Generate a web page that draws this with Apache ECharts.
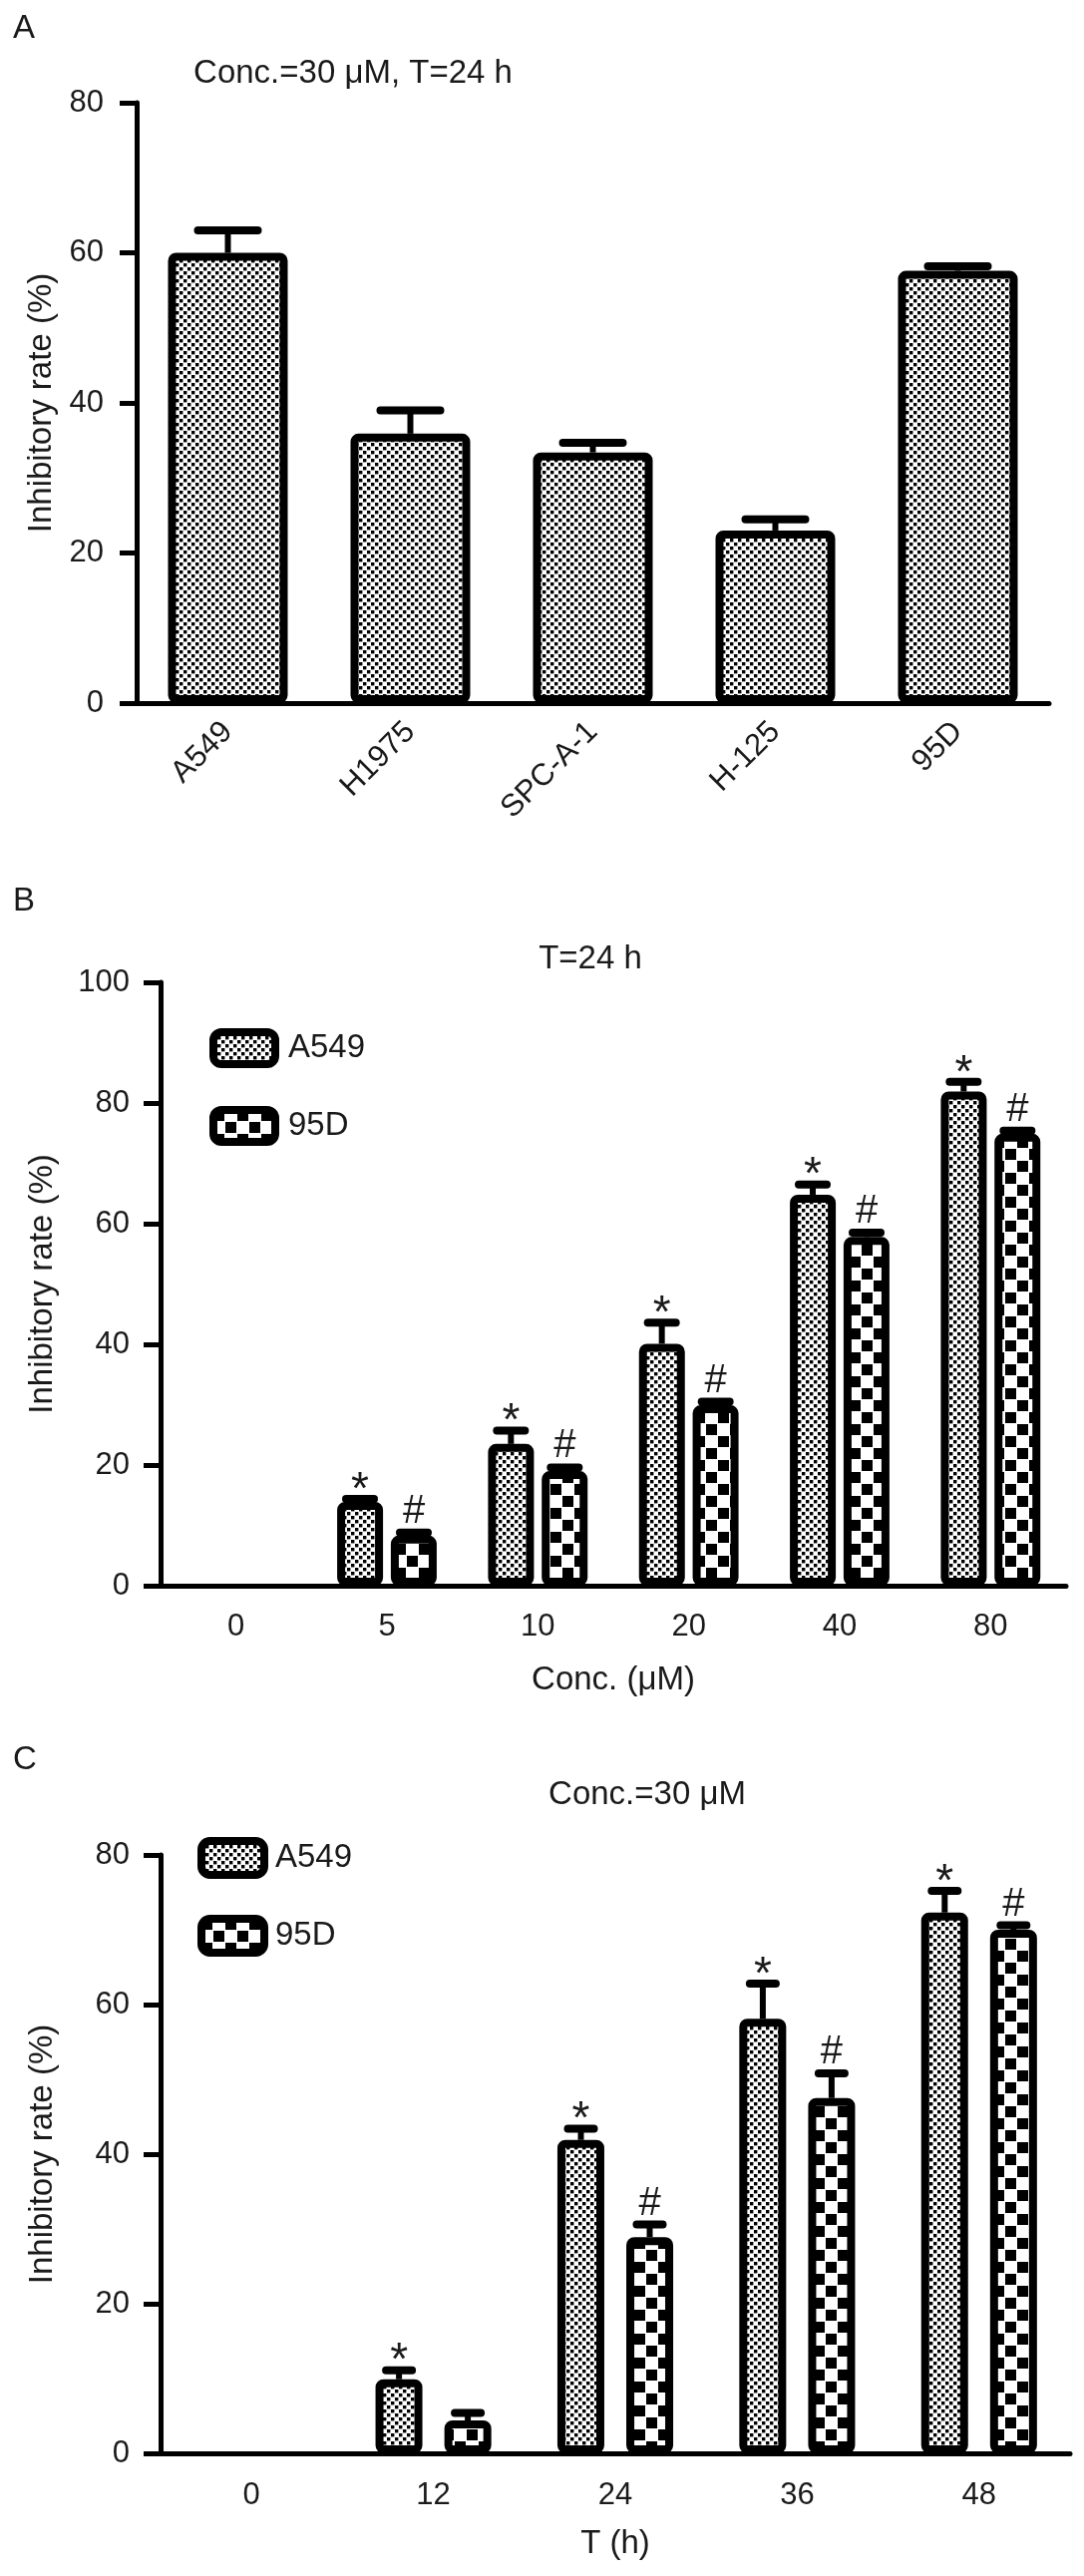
<!DOCTYPE html>
<html>
<head>
<meta charset="utf-8">
<script src="https://cdn.jsdelivr.net/npm/echarts@6/dist/echarts.min.js"></script>
<style>
html,body{margin:0;padding:0;background:#fff;}
#chart{width:1087px;height:2583px;}
</style>
</head>
<body>
<div id="chart"></div>
<script>
// ---- Panel A data ----
const catsA = ['A549', 'H1975', 'SPC-A-1', 'H-125', '95D'];
const valsA = [60.0, 35.9, 33.4, 23.0, 57.6];
const errA  = [3.0, 3.1, 1.3, 1.5, 0.6];
const marksA = ['', '', '', '', ''];

// ---- Panel B data ----
const catsB = ['0', '5', '10', '20', '40', '80'];
const b549 = [0, 13.9, 23.5, 40.1, 64.8, 81.9];
const b549Err = [0, 0.5, 2.2, 3.5, 1.7, 1.6];
const b95 = [0, 8.3, 19.0, 29.9, 57.8, 74.9];
const b95Err = [0, 0.5, 0.6, 0.6, 0.7, 0.5];
const b549Mark = ['', '*', '*', '*', '*', '*'];
const b95Mark = ['', '#', '#', '#', '#', '#'];

// ---- Panel C data ----
const catsC = ['0', '12', '24', '36', '48'];
const c549 = [0, 9.9, 41.9, 58.1, 72.3];
const c549Err = [0, 1.2, 1.5, 4.7, 2.9];
const c95 = [0, 4.4, 28.9, 47.5, 70.0];
const c95Err = [0, 1.0, 1.7, 3.3, 0.6];
const c549Mark = ['', '*', '*', '*', '*'];
const c95Mark = ['', '', '#', '#', '#'];

const FONT = "'Liberation Sans', Arial, sans-serif";
const TXT = '#1a1a1a';
const FS = 31;   // tick labels
const FN = 33;   // names, titles, legend

function makePattern(cell, dot) {
  const c = document.createElement('canvas');
  c.width = c.height = cell * 2;
  const ctx = c.getContext('2d');
  ctx.fillStyle = '#fff';
  ctx.fillRect(0, 0, c.width, c.height);
  ctx.fillStyle = '#000';
  ctx.fillRect(0, 0, dot, dot);
  ctx.fillRect(cell, cell, dot, dot);
  return c;
}
const fineFill = { image: makePattern(4, 3.4), repeat: 'repeat' };
const coarseFill = { image: makePattern(12, 11), repeat: 'repeat' };

function barStyle(fill) {
  return { color: fill, borderColor: '#000', borderWidth: 8, borderRadius: 4 };
}
// zero values are no bar at all
function barData(vals) { return vals.map(v => (v === 0 ? null : v)); }

function errSeries(name, gi, vals, errs, marks, offset, capLen) {
  return {
    type: 'custom', name: name, xAxisIndex: gi, yAxisIndex: gi,
    coordinateSystem: 'cartesian2d', z: 5, silent: true,
    encode: { x: 0, y: 1 },
    data: vals.map((v, i) => [i, v, errs[i]]),
    renderItem: function (params, api) {
      const i = api.value(0), v = api.value(1), e = api.value(2);
      if (!v) return null;
      const b = api.coord([i, v]);
      const t = api.coord([i, v + e]);
      const x = b[0] + offset;
      const children = [];
      if (e > 0) {
        children.push({ type: 'line', shape: { x1: x, y1: b[1], x2: x, y2: t[1] },
          style: { stroke: '#000', lineWidth: 6 } });
        children.push({ type: 'line', shape: { x1: x - capLen / 2, y1: t[1], x2: x + capLen / 2, y2: t[1] },
          style: { stroke: '#000', lineWidth: 8, lineCap: 'round' } });
      }
      const m = marks[params.dataIndex];
      if (m) {
        const capTop = t[1] - 4;
        children.push({ type: 'text', style: {
          text: m, x: x, y: m === '*' ? capTop + 19 : capTop + 3,
          align: 'center', verticalAlign: 'bottom',
          font: (m === '*' ? '46px ' : '40px ') + FONT, fill: TXT } });
      }
      return { type: 'group', children: children };
    }
  };
}

const axisLine = { lineStyle: { color: '#000', width: 5 } };
const axisTick = { length: 17, lineStyle: { color: '#000', width: 5 } };
const labelStyle = { color: TXT, fontSize: FS, fontFamily: FONT };
const nameStyle = { color: TXT, fontSize: FN, fontFamily: FONT };

const chart = echarts.init(document.getElementById('chart'));
chart.setOption({
  animation: false,
  backgroundColor: '#fff',
  textStyle: { fontFamily: FONT },
  grid: [
    { left: 137, top: 103, width: 915, height: 602 },
    { left: 161, top: 985, width: 908, height: 605 },
    { left: 161, top: 1860, width: 912, height: 600 }
  ],
  xAxis: [
    { type: 'category', gridIndex: 0, data: catsA, axisLine: axisLine,
      axisTick: Object.assign({ alignWithLabel: true }, axisTick),
      axisLabel: Object.assign({ rotate: 45, margin: 24, interval: 0 }, labelStyle) },
    { type: 'category', gridIndex: 1, data: catsB, axisLine: axisLine,
      axisTick: Object.assign({ alignWithLabel: true }, axisTick),
      axisLabel: Object.assign({ margin: 26, interval: 0 }, labelStyle),
      name: 'Conc. (μM)', nameLocation: 'middle', nameGap: 78, nameTextStyle: nameStyle },
    { type: 'category', gridIndex: 2, data: catsC, axisLine: axisLine,
      axisTick: Object.assign({ alignWithLabel: true }, axisTick),
      axisLabel: Object.assign({ margin: 27, interval: 0 }, labelStyle),
      name: 'T (h)', nameLocation: 'middle', nameGap: 74, nameTextStyle: nameStyle }
  ],
  yAxis: [
    { type: 'value', gridIndex: 0, min: 0, max: 80, interval: 20,
      axisLine: Object.assign({ show: true }, axisLine), axisTick: Object.assign({ show: true }, axisTick),
      splitLine: { show: false }, axisLabel: Object.assign({ margin: 33 }, labelStyle),
      name: 'Inhibitory rate (%)', nameLocation: 'middle', nameGap: 78, nameTextStyle: nameStyle },
    { type: 'value', gridIndex: 1, min: 0, max: 100, interval: 20,
      axisLine: Object.assign({ show: true }, axisLine), axisTick: Object.assign({ show: true }, axisTick),
      splitLine: { show: false }, axisLabel: Object.assign({ margin: 31 }, labelStyle),
      name: 'Inhibitory rate (%)', nameLocation: 'middle', nameGap: 102, nameTextStyle: nameStyle },
    { type: 'value', gridIndex: 2, min: 0, max: 80, interval: 20,
      axisLine: Object.assign({ show: true }, axisLine), axisTick: Object.assign({ show: true }, axisTick),
      splitLine: { show: false }, axisLabel: Object.assign({ margin: 31 }, labelStyle),
      name: 'Inhibitory rate (%)', nameLocation: 'middle', nameGap: 102, nameTextStyle: nameStyle }
  ],
  legend: [
    { data: ['A549', '95D'], orient: 'vertical', left: 205, top: 1026, itemWidth: 62, itemHeight: 32,
      itemGap: 38, selectedMode: false, icon: 'roundRect',
      itemStyle: { borderWidth: 8, borderColor: '#000' },
      textStyle: { color: TXT, fontSize: FN, fontFamily: FONT, padding: [0, 0, 0, 8] } },
    { data: ['A549', '95D'], orient: 'vertical', left: 193, top: 1837, itemWidth: 63, itemHeight: 34,
      itemGap: 36, selectedMode: false, icon: 'roundRect',
      itemStyle: { borderWidth: 8, borderColor: '#000' },
      textStyle: { color: TXT, fontSize: FN, fontFamily: FONT, padding: [0, 0, 0, 6] } }
  ],
  graphic: [
    { type: 'text', left: 13, top: 12, style: { text: 'A', font: FN + 'px ' + FONT, fill: TXT } },
    { type: 'text', left: 13, top: 887, style: { text: 'B', font: FN + 'px ' + FONT, fill: TXT } },
    { type: 'text', left: 13, top: 1748, style: { text: 'C', font: FN + 'px ' + FONT, fill: TXT } },
    { type: 'text', x: 354, y: 74, style: { text: 'Conc.=30 μM, T=24 h', font: FN + 'px ' + FONT, fill: TXT, align: 'center', verticalAlign: 'middle' } },
    { type: 'text', x: 592, y: 962, style: { text: 'T=24 h', font: FN + 'px ' + FONT, fill: TXT, align: 'center', verticalAlign: 'middle' } },
    { type: 'text', x: 649, y: 1800, style: { text: 'Conc.=30 μM', font: FN + 'px ' + FONT, fill: TXT, align: 'center', verticalAlign: 'middle' } }
  ],
  series: [
    { type: 'bar', name: 'Inhibitory rate', xAxisIndex: 0, yAxisIndex: 0, data: barData(valsA),
      barWidth: 120, itemStyle: barStyle(fineFill) },
    errSeries('errA', 0, valsA, errA, marksA, 0, 60),

    { type: 'bar', name: 'A549', xAxisIndex: 1, yAxisIndex: 1, data: barData(b549),
      barWidth: 46, barGap: '17%', itemStyle: barStyle(fineFill) },
    { type: 'bar', name: '95D', xAxisIndex: 1, yAxisIndex: 1, data: barData(b95),
      barWidth: 46, barGap: '17%', itemStyle: barStyle(coarseFill) },
    errSeries('errB1', 1, b549, b549Err, b549Mark, -27, 28),
    errSeries('errB2', 1, b95, b95Err, b95Mark, 27, 28),

    { type: 'bar', name: 'A549', xAxisIndex: 2, yAxisIndex: 2, data: barData(c549),
      barWidth: 47, barGap: '47%', itemStyle: barStyle(fineFill) },
    { type: 'bar', name: '95D', xAxisIndex: 2, yAxisIndex: 2, data: barData(c95),
      barWidth: 47, barGap: '47%', itemStyle: barStyle(coarseFill) },
    errSeries('errC1', 2, c549, c549Err, c549Mark, -34.5, 26),
    errSeries('errC2', 2, c95, c95Err, c95Mark, 34.5, 26)
  ]
});
</script>
</body>
</html>
